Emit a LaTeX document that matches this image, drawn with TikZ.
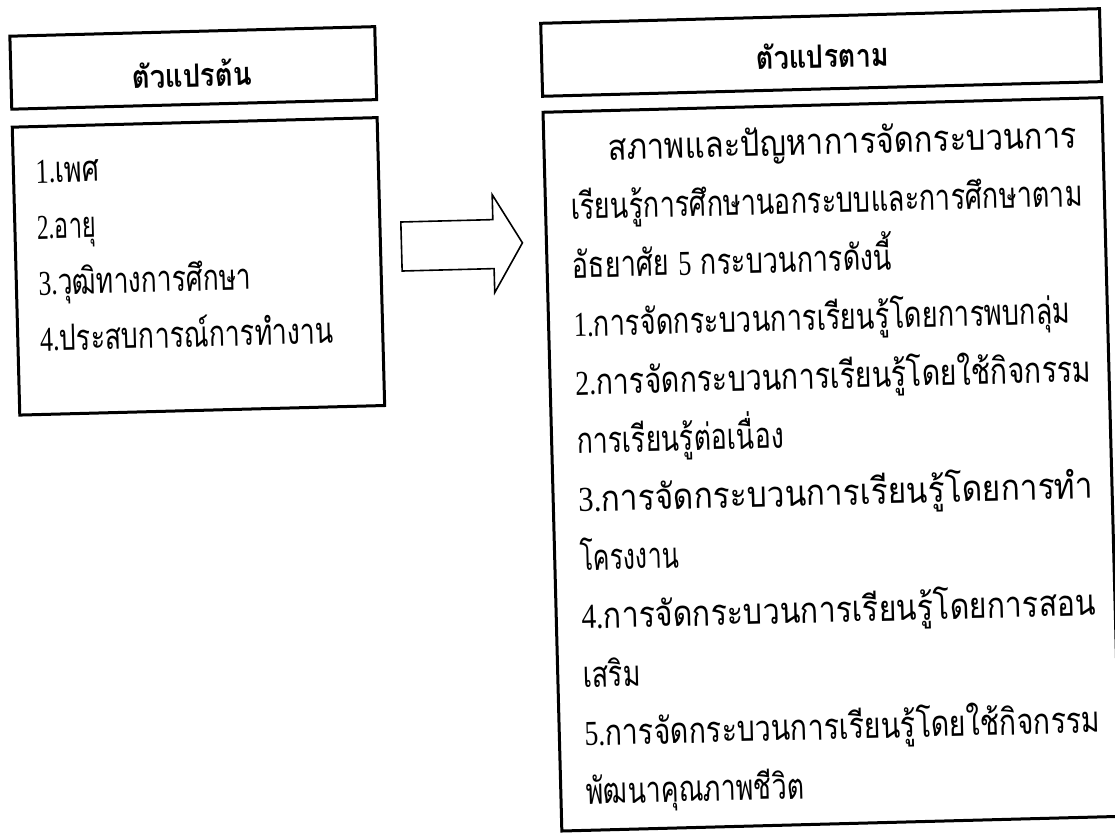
\documentclass[tikz,border=0pt]{standalone}
\usepackage{fontspec}
\usepackage{graphicx}
\setmainfont{Liberation Serif}
\newfontfamily\thai[Script=Thai]{Loma}
\newfontfamily\lnumfont{Liberation Serif}
\newcommand\lnum[1]{{\lnumfont\fontsize{35}{38}\selectfont #1}}
% Thai character classes for distributed (letter-spaced) lines
\count255="0E01
\loop
  \XeTeXcharclass\count255=7
  \ifnum\count255<"0E5B \advance\count255 by 1
\repeat
\XeTeXcharclass"0E31=8
\XeTeXcharclass"0E33=8
\XeTeXcharclass"0E34=8
\XeTeXcharclass"0E35=8
\XeTeXcharclass"0E36=8
\XeTeXcharclass"0E37=8
\XeTeXcharclass"0E38=8
\XeTeXcharclass"0E39=8
\XeTeXcharclass"0E3A=8
\XeTeXcharclass"0E47=8
\XeTeXcharclass"0E48=8
\XeTeXcharclass"0E49=8
\XeTeXcharclass"0E4A=8
\XeTeXcharclass"0E4B=8
\XeTeXcharclass"0E4C=8
\XeTeXcharclass"0E4D=8
\XeTeXcharclass"0E4E=8
\def\thglue{\hskip 0pt plus 1fil\relax}
\XeTeXinterchartoks 7 7 = {\thglue}
\XeTeXinterchartoks 8 7 = {\thglue}
\XeTeXinterchartokenstate=0
\newsavebox\fitbox
% set #2 to exactly the width #1: squeeze if too wide, letter-space if too narrow
\newcommand\fitline[2]{%
  \sbox\fitbox{#2}%
  \ifdim\wd\fitbox>#1\relax
    \resizebox{#1}{\height}{\usebox\fitbox}%
  \else
    \makebox[#1][s]{\XeTeXinterchartokenstate=1 #2}%
  \fi}
\tikzset{
  box/.style={draw=black, line width=3pt, inner sep=0pt},
  txt/.style={font={\thai\fontsize{36}{40}\selectfont}, inner sep=0pt, anchor=base west},
  head/.style={font={\thai\bfseries\fontsize{32}{36}\selectfont}, inner sep=0pt, anchor=base},
  bigarrow/.style={draw=black, line width=1.6pt, fill=white, line join=miter}
}
\begin{document}
\begin{tikzpicture}[x=1pt, y=-1pt]
\fill[white] (0,0) rectangle (1115,835);
\useasboundingbox (0,0) rectangle (1115,835);
\begin{scope}[rotate around={1.5:(557,417)}, transform shape]
  % left column
  \node[box, minimum width=365pt, minimum height=73pt] (lhead) at (202.5,58.5) {};
  \node[head] (lheadtxt) at (201,77.5) {\fitline{120pt}{ตัวแปรต้น}};
  \node[box, minimum width=365pt, minimum height=288pt] (lbody) at (202.5,257) {};
  \node[txt] (l1) at (42,169.5) {\fitline{64pt}{\lnum{1.}เพศ}};
  \node[txt] (l2) at (42,225.5) {\fitline{59pt}{\lnum{2.}อายุ}};
  \node[txt] (l3) at (42,281.5) {\fitline{213pt}{\lnum{3.}\thglue วุฒิทางการศึกษา}};
  \node[txt] (l4) at (42,337.5) {\fitline{294pt}{\lnum{4.}\thglue ประสบการณ์การทำงาน}};
  % arrow
  \coordinate (a1) at (406,218);
  \draw[bigarrow] (a1) -- (498,218) -- (498,193) -- (527,242) -- (498,291) -- (498,267) -- (406,267) -- cycle;
  % right column
  \node[box, minimum width=559pt, minimum height=73pt] (rhead) at (830.5,59.5) {};
  \node[head] (rheadtxt) at (832,75) {\fitline{132pt}{ตัวแปรตาม}};
  \node[box, minimum width=559pt, minimum height=719pt] (rbody) at (830.5,471.5) {};
  \node[txt] (r1) at (615,161.5) {\fitline{469pt}{สภาพและปัญหาการจัดกระบวนการ}};
  \node[txt] (r2) at (576,220) {\fitline{512pt}{เรียนรู้การศึกษานอกระบบและการศึกษาตาม}};
  \node[txt] (r3) at (576,278.5) {\fitline{320pt}{อัธยาศัย \lnum{5} กระบวนการดังนี้}};
  \node[txt] (r4) at (576,337) {\fitline{497pt}{\lnum{1.}\thglue การจัดกระบวนการเรียนรู้โดยการพบกลุ่ม}};
  \node[txt] (r5) at (576,395.5) {\fitline{516pt}{\lnum{2.}\thglue การจัดกระบวนการเรียนรู้โดยใช้กิจกรรม}};
  \node[txt] (r6) at (576,454) {\fitline{207pt}{การเรียนรู้ต่อเนื่อง}};
  \node[txt] (r7) at (576,512.5) {\fitline{515pt}{\lnum{3.}\thglue การจัดกระบวนการเรียนรู้โดยการทำ}};
  \node[txt] (r8) at (576,571) {\fitline{99pt}{โครงงาน}};
  \node[txt] (r9) at (576,629.5) {\fitline{515pt}{\lnum{4.}\thglue การจัดกระบวนการเรียนรู้โดยการสอน}};
  \node[txt] (r10) at (576,688) {\fitline{58pt}{เสริม}};
  \node[txt] (r11) at (576,746.5) {\fitline{516pt}{\lnum{5.}\thglue การจัดกระบวนการเรียนรู้โดยใช้กิจกรรม}};
  \node[txt] (r12) at (576,805) {\fitline{218pt}{พัฒนาคุณภาพชีวิต}};
\end{scope}
\end{tikzpicture}
\end{document}
